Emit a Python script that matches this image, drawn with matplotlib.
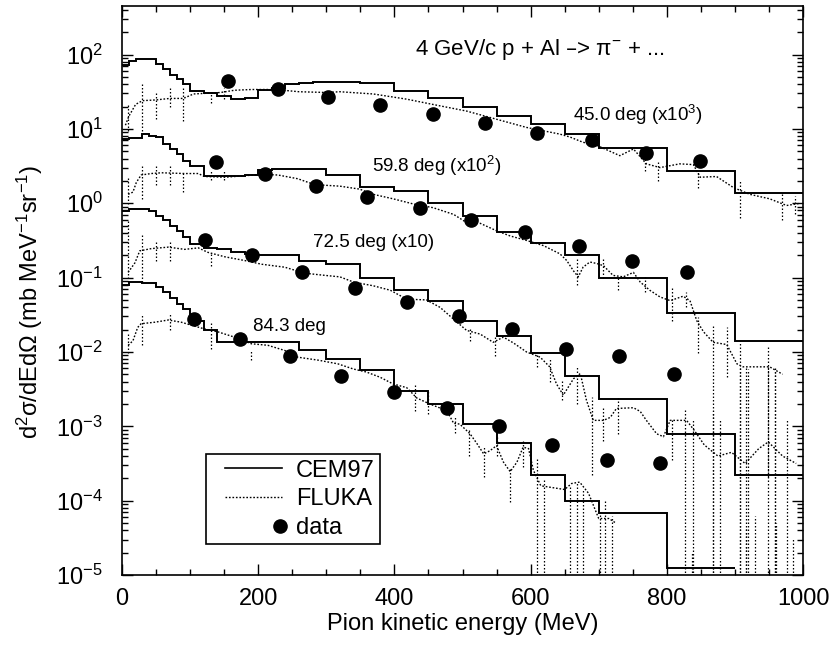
"""4 GeV/c p + Al -> pi- double differential spectra: CEM97 vs FLUKA vs data."""
import matplotlib
matplotlib.use("Agg")
import matplotlib.pyplot as plt
import numpy as np
from matplotlib.ticker import MultipleLocator, LogLocator, NullFormatter, FixedLocator
from matplotlib.lines import Line2D
from matplotlib.legend_handler import HandlerLine2D

plt.rcParams['font.family'] = ['Liberation Sans', 'DejaVu Sans']
plt.rcParams['mathtext.default'] = 'regular'

## all y values as log10 of the plotted value
## (already multiplied by the x10^3 / x10^2 / x10 offsets)

# CEM97 histogram bins (MeV)
cem_edges = [0, 10, 20, 30, 40, 50, 60, 70, 80, 90, 100, 120, 140, 160, 180,
             200, 220, 240, 260, 280, 300, 350, 400, 450, 500, 550, 600, 650,
             700, 800, 900, 1000]

cem45 = [1.86, 1.91, 1.94, 1.94, 1.94, 1.87, 1.80, 1.73, 1.67, 1.60,
         1.51, 1.48, 1.44, 1.40, 1.42, 1.53, 1.55, 1.60, 1.62, 1.63,
         1.63, 1.62, 1.51, 1.42, 1.29, 1.17, 1.07, 0.93, 0.75, 0.43, 0.14]
cem60 = [0.86, 0.88, 0.88, 0.93, 0.90, 0.89, 0.80, 0.73, 0.66, 0.57,
         0.50, 0.37, 0.36, 0.36, 0.38, 0.45, 0.46, 0.46, 0.46, 0.46,
         0.38, 0.22, 0.17, 0.01, -0.17, -0.38, -0.53, -0.69, -1.01, -1.48, -1.85]
cem72 = [-0.10, -0.08, -0.08, -0.08, -0.10, -0.17, -0.23, -0.30, -0.37, -0.45,
         -0.55, -0.60, -0.62, -0.66, -0.68, -0.69, -0.69, -0.70, -0.77, -0.77,
         -0.82, -1.00, -1.17, -1.31, -1.58, -1.78, -2.02, -2.32, -2.63, -3.10, -3.66]
cem84 = [-1.10, -1.06, -1.06, -1.07, -1.07, -1.13, -1.20, -1.27, -1.35, -1.42,
         -1.58, -1.71, -1.87, -1.87, -1.87, -1.87, -1.87, -1.87, -1.98, -1.98,
         -2.09, -2.24, -2.52, -2.70, -2.97, -3.23, -3.66, -4.00, -4.16, -4.90]

# FLUKA (dotted)
fl45_x = [5, 10, 20, 30, 50, 70, 90, 105, 125, 145, 165, 190, 225, 260, 300,
          320, 369, 418, 467, 506, 550, 594, 643, 658, 677, 697, 731, 751,
          770, 790, 819, 839, 849, 873, 898, 922, 951, 976, 996]
fl45_y = [1.05, 1.17, 1.33, 1.38, 1.39, 1.41, 1.41, 1.47, 1.48, 1.49, 1.52,
          1.53, 1.53, 1.50, 1.49, 1.50, 1.47, 1.40, 1.31, 1.24, 1.13, 1.02,
          0.93, 0.89, 0.82, 0.78, 0.64, 0.73, 0.53, 0.48, 0.53, 0.52, 0.35,
          0.36, 0.21, 0.12, 0.06, -0.03, 0.00]
fl60_x = [9, 16, 21, 28, 43, 58, 92, 112, 121, 151, 180, 205, 229, 258, 283,
          302, 320, 349, 369, 398, 428, 457, 487, 506, 526, 550, 570, 594,
          619, 643, 653, 663, 670, 677, 687, 697, 707, 721, 736, 751, 761,
          775, 790, 805, 824, 834, 844, 854, 868, 888, 903, 912, 951, 970]
fl60_y = [0.12, 0.15, 0.28, 0.38, 0.40, 0.41, 0.40, 0.40, 0.36, 0.35, 0.37,
          0.39, 0.38, 0.33, 0.25, 0.24, 0.23, 0.19, 0.12, 0.06, -0.01, -0.06,
          -0.15, -0.26, -0.27, -0.37, -0.44, -0.50, -0.57, -0.68, -0.77, -0.91,
          -0.99, -0.86, -0.79, -0.81, -0.84, -0.97, -0.99, -0.93, -1.06, -1.17,
          -1.26, -1.31, -1.25, -1.31, -1.58, -1.73, -1.87, -1.90, -2.16, -2.20,
          -2.20, -2.30]
fl72_x = [9, 19, 26, 43, 68, 92, 112, 126, 151, 180, 205, 239, 268, 298, 320,
          340, 369, 394, 418, 447, 467, 487, 506, 526, 545, 560, 575, 594,
          614, 628, 638, 648, 663, 673, 682, 692, 707, 717, 726, 751, 761,
          770, 785, 795, 805, 829, 840, 855, 875, 895, 915, 935, 949, 970, 990]
fl72_y = [-0.93, -0.80, -0.64, -0.61, -0.59, -0.62, -0.60, -0.66, -0.72,
          -0.77, -0.82, -0.86, -0.94, -0.97, -0.99, -1.06, -1.11, -1.17,
          -1.29, -1.30, -1.40, -1.56, -1.71, -1.76, -1.87, -1.80, -1.88,
          -2.00, -2.07, -2.20, -2.43, -2.58, -2.36, -2.29, -2.65, -2.92,
          -2.92, -2.88, -2.76, -2.75, -2.80, -2.92, -3.10, -3.14, -2.92,
          -2.92, -3.05, -3.25, -3.40, -3.35, -3.50, -3.30, -3.21, -3.40, -3.50]
fl84_x = [9, 16, 23, 28, 48, 68, 87, 102, 121, 141, 165, 190, 214, 239, 258,
          288, 317, 340, 359, 379, 398, 418, 433, 452, 477, 487, 496, 511,
          521, 531, 540, 550, 560, 570, 580, 589, 597, 604, 615, 650, 660,
          672, 685, 700, 715, 725]
fl84_y = [-1.91, -1.85, -1.67, -1.62, -1.60, -1.57, -1.60, -1.64, -1.69,
          -1.73, -1.80, -1.89, -1.91, -1.98, -2.07, -2.11, -2.16, -2.23,
          -2.27, -2.34, -2.43, -2.48, -2.62, -2.70, -2.79, -2.96, -2.97,
          -3.10, -3.23, -3.37, -3.33, -3.26, -3.48, -3.61, -3.48, -3.28,
          -3.30, -3.59, -3.80, -3.85, -3.77, -3.75, -3.90, -4.24, -4.24, -4.30]

# FLUKA error bars: x, low, high (log10); -6 = goes off the bottom
fe45 = [(9, 0.97, 1.34), (29, 0.97, 1.62), (50, 1.13, 1.51), (70, 1.29, 1.58),
        (90, 1.11, 1.58), (131, 1.35, 1.50), (150, 1.40, 1.55),
        (768, 0.43, 0.66), (787, 0.30, 0.55), (846, 0.20, 0.43),
        (907, -0.20, 0.30), (969, -0.23, 0.13), (988, -0.15, 0.10)]
fe60 = [(9, -0.01, 0.35), (29, 0.06, 0.53), (50, 0.24, 0.53), (70, 0.24, 0.53),
        (90, 0.15, 0.44), (130, 0.31, 0.43), (150, 0.31, 0.43),
        (668, -1.10, -0.75), (707, -1.00, -0.75), (729, -1.17, -0.99),
        (768, -1.20, -0.96), (807, -1.58, -1.13), (828, -1.40, -1.20),
        (846, -2.02, -1.53), (868, -6, -1.62), (888, -2.34, -1.67),
        (907, -6, -1.85), (917, -6, -2.20), (949, -6, -1.90), (959, -6, -2.20)]
fe72 = [(9, -1.06, -0.23), (29, -1.06, -0.41), (50, -0.77, -0.50),
        (70, -0.77, -0.50), (130, -0.84, -0.66), (511, -1.85, -1.67),
        (548, -2.05, -1.77), (609, -2.20, -1.99), (628, -2.40, -2.10),
        (646, -2.65, -2.38), (668, -2.70, -2.20), (690, -3.66, -2.60),
        (707, -3.20, -2.75), (729, -3.10, -2.60), (807, -3.45, -2.90),
        (827, -6, -2.75), (839, -6, -2.92), (878, -6, -2.92), (907, -6, -2.20),
        (919, -6, -2.23), (949, -3.68, -2.18), (959, -6, -2.23), (976, -6, -2.92)]
fe84 = [(9, -2.02, -1.75), (29, -1.90, -1.50), (70, -1.71, -1.49),
        (130, -1.96, -1.58), (190, -2.11, -1.98), (430, -2.80, -2.45),
        (450, -2.83, -2.52), (489, -3.09, -2.87), (509, -3.40, -3.03),
        (531, -3.68, -3.26), (550, -3.40, -3.15), (570, -4.02, -3.55),
        (589, -3.55, -3.20), (609, -6, -3.41), (619, -6, -3.70), (658, -6, -3.80),
        (668, -6, -3.75), (677, -6, -3.85), (702, -6, -4.15), (709, -6, -4.00),
        (719, -6, -4.20), (837, -6, -4.70), (868, -6, -2.79), (917, -6, -4.35),
        (930, -6, -4.20), (960, -6, -4.30), (985, -6, -4.50)]

# measured points (filled circles)
d45_x = [156, 229, 303, 379, 456, 533, 610, 690, 769, 849]
d45_y = [1.64, 1.54, 1.43, 1.32, 1.20, 1.08, 0.95, 0.85, 0.68, 0.57]
d60_x = [138, 210, 285, 360, 437, 512, 592, 671, 749, 829]
d60_y = [0.56, 0.40, 0.23, 0.08, -0.07, -0.23, -0.39, -0.58, -0.78, -0.92]
d72_x = [122, 191, 265, 342, 418, 495, 573, 652, 730, 810]
d72_y = [-0.49, -0.70, -0.93, -1.14, -1.33, -1.51, -1.69, -1.96, -2.06, -2.29]
d84_x = [105, 173, 247, 322, 400, 477, 554, 632, 712, 790]
d84_y = [-1.55, -1.82, -2.06, -2.32, -2.54, -2.75, -3.00, -3.25, -3.45, -3.49]

y_major = [1e-5, 1e-4, 1e-3, 1e-2, 1e-1, 1e0, 1e1, 1e2]


class RightLineHandler(HandlerLine2D):
    # line only on the right part of the handle box
    def get_xdata(self, legend, xdescent, ydescent, width, height, fontsize):
        return ([-xdescent + 0.2 * width, -xdescent + width],
                [-xdescent + width])


class RightMarkerHandler(HandlerLine2D):
    # single marker sitting at the right end of the handle box
    def get_xdata(self, legend, xdescent, ydescent, width, height, fontsize):
        x = -xdescent + width - 0.1 * height
        return ([x - 1, x + 1], [x])


def main():
    fig = plt.figure(figsize=(8.33, 6.45), dpi=100)
    ax = fig.add_axes([0.1465, 0.1085, 0.8175, 0.8822])
    ax.set_yscale("log")

    for vals in (cem45, cem60, cem72, cem84):
        ax.stairs(np.power(10.0, vals), cem_edges[:len(vals) + 1],
                  baseline=None, color="k", lw=1.4)

    for fx, fy in ((fl45_x, fl45_y), (fl60_x, fl60_y),
                   (fl72_x, fl72_y), (fl84_x, fl84_y)):
        ax.plot(fx, np.power(10.0, fy), color="k", lw=1.0,
                ls=(0, (1.2, 1.3)))

    for bars in (fe45, fe60, fe72, fe84):
        bx = [b[0] for b in bars]
        lo = np.power(10.0, [b[1] for b in bars])
        hi = np.power(10.0, [b[2] for b in bars])
        ax.vlines(bx, lo, hi, colors="k", lw=0.9, linestyles=(0, (1.2, 1.6)))

    for dx, dy in ((d45_x, d45_y), (d60_x, d60_y),
                   (d72_x, d72_y), (d84_x, d84_y)):
        ax.plot(dx, np.power(10.0, dy), "o", color="k", ms=9.5, zorder=5)

    ax.set_xlim(0, 1000)
    ax.set_ylim(1e-5, 450)

    ax.xaxis.set_major_locator(MultipleLocator(200))
    ax.xaxis.set_minor_locator(MultipleLocator(50))
    ax.yaxis.set_major_locator(FixedLocator(y_major))
    ax.yaxis.set_minor_locator(LogLocator(base=10, subs=[2, 3, 4, 5, 6, 7, 8, 9],
                                          numticks=20))
    ax.yaxis.set_minor_formatter(NullFormatter())
    ax.tick_params(which="both", direction="in", top=True, right=True,
                   width=1.0, labelsize=17)
    ax.tick_params(which="major", length=8)
    ax.tick_params(which="minor", length=4)
    ax.tick_params(axis="y", pad=14)
    ax.tick_params(axis="x", pad=9)
    for sp in ax.spines.values():
        sp.set_linewidth(1.2)

    ax.set_xlabel("Pion kinetic energy (MeV)", fontsize=17)
    ax.xaxis.set_label_coords(0.5, -0.066)
    ax.set_ylabel("d$^2$σ/dEdΩ (mb MeV$^{-1}$sr$^{-1}$)", fontsize=17)
    ax.yaxis.set_label_coords(-0.113, 0.48)

    ax.text(430, 116, "4 GeV/c p + Al –> π$^{-}$ + ...", fontsize=16, va="center")
    ax.text(662, 15.5, "45.0 deg (x10$^{3}$)", fontsize=13.5, va="center")
    ax.text(367, 3.2, "59.8 deg (x10$^{2}$)", fontsize=13.5, va="center")
    ax.text(280, 0.295, "72.5 deg (x10)", fontsize=13.5, va="center")
    ax.text(192, 0.0219, "84.3 deg", fontsize=13.5, va="center")

    h_cem = Line2D([], [], color="k", lw=1.2)
    h_fl = Line2D([], [], color="k", lw=1.0, ls=(0, (1.2, 1.3)))
    h_dat = Line2D([], [], color="k", ls="none", marker="o", ms=9.5)
    hmap = {h_cem: RightLineHandler(numpoints=1),
            h_fl: RightLineHandler(numpoints=1),
            h_dat: RightMarkerHandler(numpoints=1)}
    leg = ax.legend([h_cem, h_fl, h_dat], ["CEM97", "FLUKA", "data"],
                    loc="lower left", bbox_to_anchor=(0.1226, 0.0545),
                    borderaxespad=0, fontsize=17, handlelength=3.0,
                    handletextpad=0.6, labelspacing=0.28, borderpad=0.22,
                    fancybox=False, edgecolor="k", framealpha=1,
                    handler_map=hmap)
    leg.get_frame().set_linewidth(1.2)

    fig.savefig("out.png", dpi=100)


if __name__ == "__main__":
    main()
